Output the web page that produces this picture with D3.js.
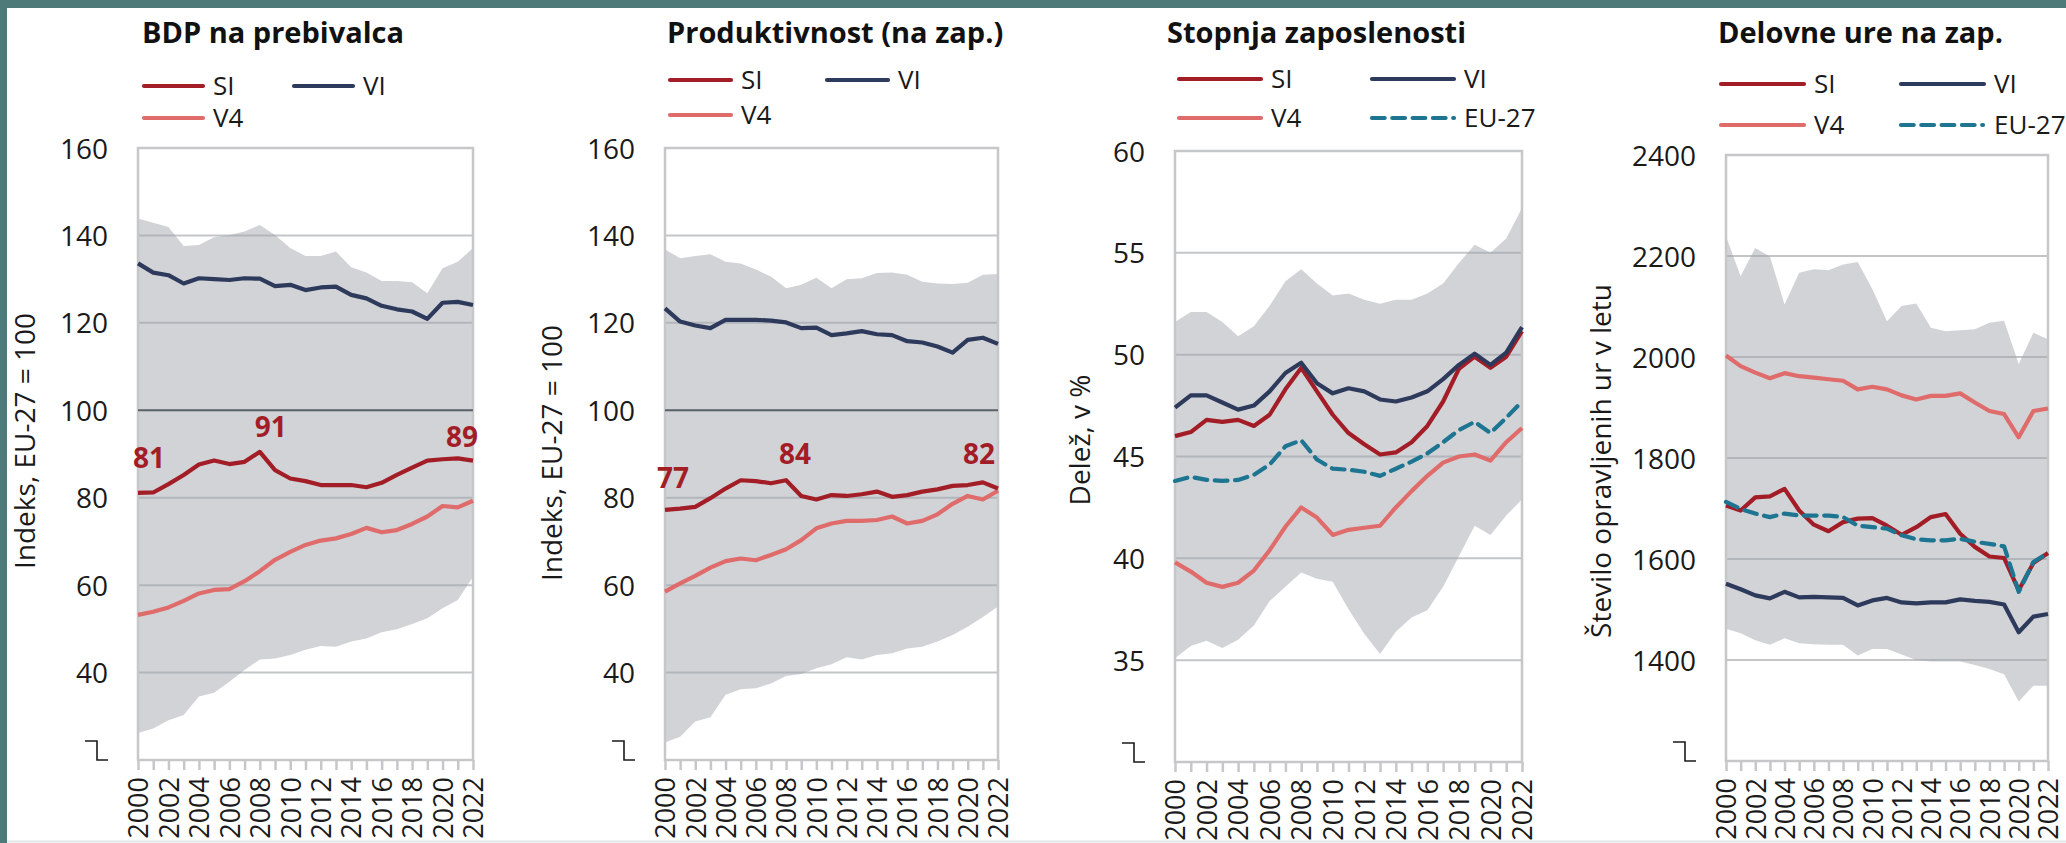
<!DOCTYPE html>
<html>
<head>
<meta charset="utf-8">
<script src="https://cdn.jsdelivr.net/npm/d3@7"></script>
<style>
  body { margin: 0; background: #fff; }
  svg text { font-family: "Open Sans", sans-serif; }
</style>
</head>
<body>
<div id="chart"></div>
<script>
// Years on the x axis
const years = [2000, 2001, 2002, 2003, 2004, 2005, 2006, 2007, 2008, 2009, 2010, 2011,
    2012, 2013, 2014, 2015, 2016, 2017, 2018, 2019, 2020, 2021, 2022];
const yearLabels = [2000, 2002, 2004, 2006, 2008, 2010, 2012, 2014, 2016, 2018, 2020, 2022];

// BDP na prebivalca (indeks, EU-27 = 100)
const gdpSI = [81.1, 81.2, 83.1, 85.2, 87.6, 88.5, 87.7, 88.2, 90.5, 86.3, 84.4, 83.8, 82.9, 82.9, 82.9, 82.4, 83.4, 85.2, 86.9, 88.5, 88.8, 89.0, 88.5];
const gdpVI = [133.6, 131.5, 130.9, 129.0, 130.2, 130.0, 129.8, 130.2, 130.1, 128.4, 128.7, 127.5, 128.1, 128.3, 126.4, 125.6, 123.9, 123.1, 122.6, 120.9, 124.6, 124.8, 124.1];
const gdpV4 = [53.2, 53.9, 54.9, 56.4, 58.1, 58.9, 59.1, 60.9, 63.2, 65.8, 67.6, 69.2, 70.2, 70.7, 71.7, 73.1, 72.1, 72.6, 74.0, 75.7, 78.1, 77.8, 79.3];
const gdpMax = [143.9, 142.9, 141.9, 137.6, 137.8, 139.6, 140.1, 140.9, 142.4, 140.1, 137.1, 135.3, 135.3, 136.3, 132.7, 131.5, 129.6, 129.6, 129.3, 126.8, 132.5, 134.0, 137.1];
const gdpMin = [26.2, 27.2, 29.1, 30.3, 34.5, 35.4, 37.9, 40.6, 43.0, 43.2, 44.0, 45.2, 46.1, 45.9, 47.1, 47.8, 49.2, 49.9, 51.1, 52.4, 54.7, 56.6, 61.9];
const gdpNoteYears = [2000, 2008, 2022];
const gdpNotes = ["81", "91", "89"];

// Produktivnost na zaposlenega (indeks, EU-27 = 100)
const prodSI = [77.2, 77.5, 77.9, 79.9, 82.1, 84.0, 83.8, 83.3, 84.0, 80.4, 79.6, 80.6, 80.4, 80.8, 81.4, 80.2, 80.6, 81.4, 81.9, 82.7, 82.9, 83.5, 82.1];
const prodVI = [123.3, 120.3, 119.4, 118.8, 120.7, 120.7, 120.7, 120.5, 120.1, 118.8, 118.9, 117.2, 117.6, 118.1, 117.4, 117.2, 115.8, 115.5, 114.6, 113.2, 116.1, 116.6, 115.2];
const prodV4 = [58.5, 60.4, 62.1, 64.0, 65.5, 66.1, 65.7, 66.9, 68.2, 70.3, 73.0, 74.1, 74.7, 74.7, 74.9, 75.7, 74.1, 74.7, 76.2, 78.6, 80.4, 79.6, 81.6];
const prodMax = [136.8, 134.8, 135.3, 135.7, 134.0, 133.6, 132.2, 130.6, 127.9, 128.7, 130.3, 127.9, 130.0, 130.2, 131.4, 131.5, 131.0, 129.4, 129.0, 128.9, 129.2, 131.0, 131.2];
const prodMin = [24.0, 25.3, 28.8, 29.8, 34.9, 36.2, 36.4, 37.5, 39.2, 39.7, 41.0, 41.9, 43.5, 43.0, 44.0, 44.4, 45.5, 45.9, 47.1, 48.6, 50.5, 52.7, 55.1];
const prodNoteYears = [2000, 2008, 2022];
const prodNotes = ["77", "84", "82"];

// Stopnja zaposlenosti (delez, v %)
const empSI = [46.0, 46.2, 46.8, 46.7, 46.8, 46.5, 47.05, 48.3, 49.35, 48.2, 47.05, 46.15, 45.6, 45.1, 45.2, 45.7, 46.5, 47.7, 49.3, 49.9, 49.35, 49.9, 51.15];
const empVI = [47.4, 48.0, 48.0, 47.65, 47.3, 47.5, 48.2, 49.1, 49.6, 48.6, 48.1, 48.35, 48.2, 47.8, 47.7, 47.9, 48.2, 48.8, 49.5, 50.05, 49.5, 50.1, 51.35];
const empV4 = [39.8, 39.35, 38.8, 38.6, 38.8, 39.4, 40.4, 41.55, 42.5, 42.0, 41.15, 41.4, 41.5, 41.6, 42.5, 43.3, 44.05, 44.7, 45.0, 45.1, 44.8, 45.7, 46.4];
const empEU = [43.8, 44.0, 43.85, 43.8, 43.85, 44.1, 44.6, 45.5, 45.8, 44.85, 44.4, 44.35, 44.25, 44.05, 44.4, 44.75, 45.15, 45.7, 46.3, 46.7, 46.15, 46.9, 47.7];
const empMax = [51.6, 52.1, 52.1, 51.6, 50.9, 51.4, 52.4, 53.6, 54.2, 53.5, 52.9, 53.0, 52.7, 52.5, 52.7, 52.7, 53.0, 53.5, 54.5, 55.4, 55.0, 55.7, 57.2];
const empMin = [35.1, 35.7, 35.95, 35.6, 36.0, 36.7, 37.9, 38.6, 39.3, 39.0, 38.85, 37.5, 36.3, 35.3, 36.4, 37.1, 37.45, 38.6, 40.1, 41.6, 41.15, 42.1, 42.9];

// Delovne ure na zaposlenega (stevilo ur v letu)
const hoursSI = [1706, 1696, 1722, 1724, 1739, 1696, 1668, 1655, 1673, 1680, 1681, 1666, 1648, 1663, 1683, 1689, 1650, 1624, 1605, 1602, 1538, 1592, 1612];
const hoursVI = [1551, 1540, 1528, 1522, 1535, 1524, 1525, 1524, 1523, 1508, 1518, 1523, 1514, 1512, 1514, 1514, 1520, 1517, 1515, 1510, 1455, 1486, 1491];
const hoursV4 = [2003, 1982, 1969, 1958, 1968, 1962, 1959, 1956, 1953, 1936, 1941, 1936, 1924, 1916, 1923, 1923, 1928, 1910, 1893, 1887, 1841, 1893, 1898];
const hoursEU = [1713, 1699, 1690, 1683, 1690, 1686, 1686, 1686, 1683, 1666, 1663, 1660, 1647, 1639, 1637, 1637, 1640, 1634, 1630, 1625, 1535, 1594, 1612];
const hoursMax = [2239, 2160, 2216, 2199, 2104, 2167, 2174, 2172, 2183, 2188, 2134, 2071, 2101, 2106, 2058, 2051, 2053, 2055, 2068, 2072, 1986, 2048, 2035];
const hoursMin = [1462, 1453, 1439, 1430, 1443, 1433, 1431, 1430, 1430, 1409, 1422, 1422, 1411, 1400, 1397, 1397, 1397, 1390, 1382, 1372, 1318, 1349, 1349];

// Tick values
const indexTicks = [40, 60, 80, 100, 120, 140, 160];
const empTicks = [35, 40, 45, 50, 55, 60];
const hoursTicks = [1400, 1600, 1800, 2000, 2200, 2400];

// Colours and line styles
const colors = { SI: "#a31d27", VI: "#2e3a5b", V4: "#e06b6b", EU: "#1d7591" };
const dash = "12.7,7.6";

const panels = [
    {
        title: "BDP na prebivalca", yTitle: "Indeks, EU-27 = 100",
        left: 138, right: 473, top: 148, bottom: 760, domain: [20, 160], ticks: indexTicks, refLine: 100,
        low: gdpMin, high: gdpMax,
        series: [["V4", gdpV4], ["SI", gdpSI], ["VI", gdpVI]],
        titleX: 142, yTitleX: 35, yTitleY: 441,
        legend: { x1: 142, x2: 292, len: 63, row1: 86, row2: 118, items: [["SI", 1, 1], ["VI", 2, 1], ["V4", 1, 2]] },
        notes: gdpNotes, noteYears: gdpNoteYears, noteSeries: gdpSI,
        noteOffsets: [[11, -25], [11, -15], [-11, -14]]
    },
    {
        title: "Produktivnost (na zap.)", yTitle: "Indeks, EU-27 = 100",
        left: 665, right: 998, top: 148, bottom: 760, domain: [20, 160], ticks: indexTicks, refLine: 100,
        low: prodMin, high: prodMax,
        series: [["V4", prodV4], ["SI", prodSI], ["VI", prodVI]],
        titleX: 667, yTitleX: 562, yTitleY: 453,
        legend: { x1: 668, x2: 825, len: 65, row1: 80, row2: 115, items: [["SI", 1, 1], ["VI", 2, 1], ["V4", 1, 2]] },
        notes: prodNotes, noteYears: prodNoteYears, noteSeries: prodSI,
        noteOffsets: [[8, -22], [9, -16], [-19, -25]]
    },
    {
        title: "Stopnja zaposlenosti", yTitle: "Delež, v %",
        left: 1175, right: 1522, top: 151, bottom: 762, domain: [30, 60], ticks: empTicks, refLine: null,
        low: empMin, high: empMax,
        series: [["V4", empV4], ["SI", empSI], ["VI", empVI], ["EU", empEU]],
        titleX: 1167, yTitleX: 1090, yTitleY: 440,
        legend: { x1: 1177, x2: 1370, len: 86, row1: 79, row2: 118, items: [["SI", 1, 1], ["VI", 2, 1], ["V4", 1, 2], ["EU", 2, 2]] },
        notes: [], noteYears: [], noteSeries: empSI, noteOffsets: []
    },
    {
        title: "Delovne ure na zap.", yTitle: "Število opravljenih ur v letu",
        left: 1726, right: 2048, top: 155, bottom: 761, domain: [1200, 2400], ticks: hoursTicks, refLine: null,
        low: hoursMin, high: hoursMax,
        series: [["V4", hoursV4], ["SI", hoursSI], ["VI", hoursVI], ["EU", hoursEU]],
        titleX: 1718, yTitleX: 1611, yTitleY: 461,
        legend: { x1: 1719, x2: 1899, len: 87, row1: 84, row2: 125, items: [["SI", 1, 1], ["VI", 2, 1], ["V4", 1, 2], ["EU", 2, 2]] },
        notes: [], noteYears: [], noteSeries: hoursSI, noteOffsets: []
    }
];

const legendNames = { SI: "SI", VI: "VI", V4: "V4", EU: "EU-27" };

const width = 2066, height = 843;

const svg = d3.select("#chart")
    .append("svg")
    .attr("width", width)
    .attr("height", height);

// Page frame
svg.append("rect").attr("width", width).attr("height", height).attr("fill", "#4e7a79");
svg.append("rect").attr("x", 7).attr("y", 8).attr("width", width - 7).attr("height", height - 8).attr("fill", "#ffffff");
svg.append("line")
    .attr("x1", 7).attr("x2", width).attr("y1", 841.5).attr("y2", 841.5)
    .attr("stroke", "#dfe6e7").attr("stroke-width", 2);

panels.forEach(drawPanel);

function drawPanel(p) {
    const x = d3.scaleLinear().domain([2000, 2022]).range([p.left, p.right]);
    const y = d3.scaleLinear().domain(p.domain).range([p.bottom, p.top]);
    const g = svg.append("g");

    // Gridlines
    g.selectAll(".grid")
        .data(p.ticks)
        .enter()
        .append("line")
        .attr("x1", p.left).attr("x2", p.right)
        .attr("y1", d => y(d)).attr("y2", d => y(d))
        .attr("stroke", "#c3c5c7")
        .attr("stroke-width", 2);

    // Min-max band
    const band = d3.area()
        .x(d => x(d))
        .y0((d, i) => y(p.low[i]))
        .y1((d, i) => y(p.high[i]));
    g.append("path")
        .datum(years)
        .attr("d", band)
        .attr("fill", "rgb(158,163,171)")
        .attr("fill-opacity", 0.48);

    // Plot frame
    g.append("rect")
        .attr("x", p.left).attr("y", p.top)
        .attr("width", p.right - p.left).attr("height", p.bottom - p.top)
        .attr("fill", "none")
        .attr("stroke", "#c6c7c8")
        .attr("stroke-width", 2.5);

    // Reference line (EU-27 = 100)
    if (p.refLine !== null) {
        g.append("line")
            .attr("x1", p.left).attr("x2", p.right)
            .attr("y1", y(p.refLine)).attr("y2", y(p.refLine))
            .attr("stroke", "#5d636a")
            .attr("stroke-width", 2);
    }

    // X axis with rotated year labels
    const xAxis = g.append("g")
        .attr("transform", "translate(0," + p.bottom + ")")
        .call(d3.axisBottom(x)
            .tickValues(years)
            .tickSize(10)
            .tickFormat(d => yearLabels.includes(d) ? String(d) : ""));
    xAxis.select(".domain").remove();
    xAxis.selectAll(".tick line").attr("stroke", "#c6c7c8").attr("stroke-width", 2.5);
    xAxis.selectAll("text")
        .attr("transform", "rotate(-90)")
        .attr("x", -17)
        .attr("y", 0)
        .attr("dy", "0.36em")
        .attr("fill", "#1a1a1a")
        .style("font-size", "27px")
        .style("text-anchor", "end");

    // Y axis
    const yAxis = g.append("g")
        .attr("transform", "translate(" + p.left + ",0)")
        .call(d3.axisLeft(y)
            .tickValues(p.ticks)
            .tickSize(0)
            .tickPadding(30)
            .tickFormat(d3.format("d")));
    yAxis.select(".domain").remove();
    yAxis.selectAll("text")
        .attr("fill", "#1a1a1a")
        .attr("dy", "0.36em")
        .style("font-size", "28px");

    // Axis break mark at the bottom of the y axis
    const bx = p.left - 30, by = p.bottom;
    g.append("path")
        .attr("d", "M" + (bx - 23) + "," + (by - 19) + "h12v19h11")
        .attr("fill", "none")
        .attr("stroke", "#1a1a1a")
        .attr("stroke-width", 1.6);

    // Y axis title
    g.append("text")
        .attr("transform", "translate(" + p.yTitleX + "," + p.yTitleY + ") rotate(-90)")
        .attr("text-anchor", "middle")
        .attr("fill", "#1a1a1a")
        .style("font-size", "28px")
        .text(p.yTitle);

    // Series lines
    p.series.forEach(([key, values]) => {
        const line = d3.line()
            .x(d => x(d))
            .y((d, i) => y(values[i]));
        g.append("path")
            .datum(years)
            .attr("d", line)
            .attr("fill", "none")
            .attr("stroke", colors[key])
            .attr("stroke-width", 4.2)
            .attr("stroke-linejoin", "round")
            .attr("stroke-linecap", key === "EU" ? "round" : "butt")
            .attr("stroke-dasharray", key === "EU" ? dash : null);
    });

    // Value labels for SI
    p.notes.forEach((t, k) => {
        const idx = years.indexOf(p.noteYears[k]);
        g.append("text")
            .attr("x", x(p.noteYears[k]) + p.noteOffsets[k][0])
            .attr("y", y(p.noteSeries[idx]) + p.noteOffsets[k][1])
            .attr("text-anchor", "middle")
            .attr("fill", colors.SI)
            .style("font-size", "28px")
            .style("font-weight", "700")
            .text(t);
    });

    // Title
    g.append("text")
        .attr("x", p.titleX)
        .attr("y", 43)
        .attr("fill", "#111")
        .style("font-size", "29px")
        .style("font-weight", "700")
        .text(p.title);

    // Legend
    const lg = p.legend;
    lg.items.forEach(([key, col, row]) => {
        const lx = col === 1 ? lg.x1 : lg.x2;
        const ly = row === 1 ? lg.row1 : lg.row2;
        const isDash = key === "EU";
        g.append("line")
            .attr("x1", lx + 2).attr("x2", isDash ? lx + 84 : lx + lg.len - 2)
            .attr("y1", ly).attr("y2", ly)
            .attr("stroke", colors[key])
            .attr("stroke-width", 4.2)
            .attr("stroke-linecap", "round")
            .attr("stroke-dasharray", isDash ? dash : null);
        g.append("text")
            .attr("x", lx + lg.len + 8)
            .attr("y", ly)
            .attr("dy", "0.36em")
            .attr("fill", "#1a1a1a")
            .style("font-size", "26px")
            .text(legendNames[key]);
    });
}
</script>
</body>
</html>
